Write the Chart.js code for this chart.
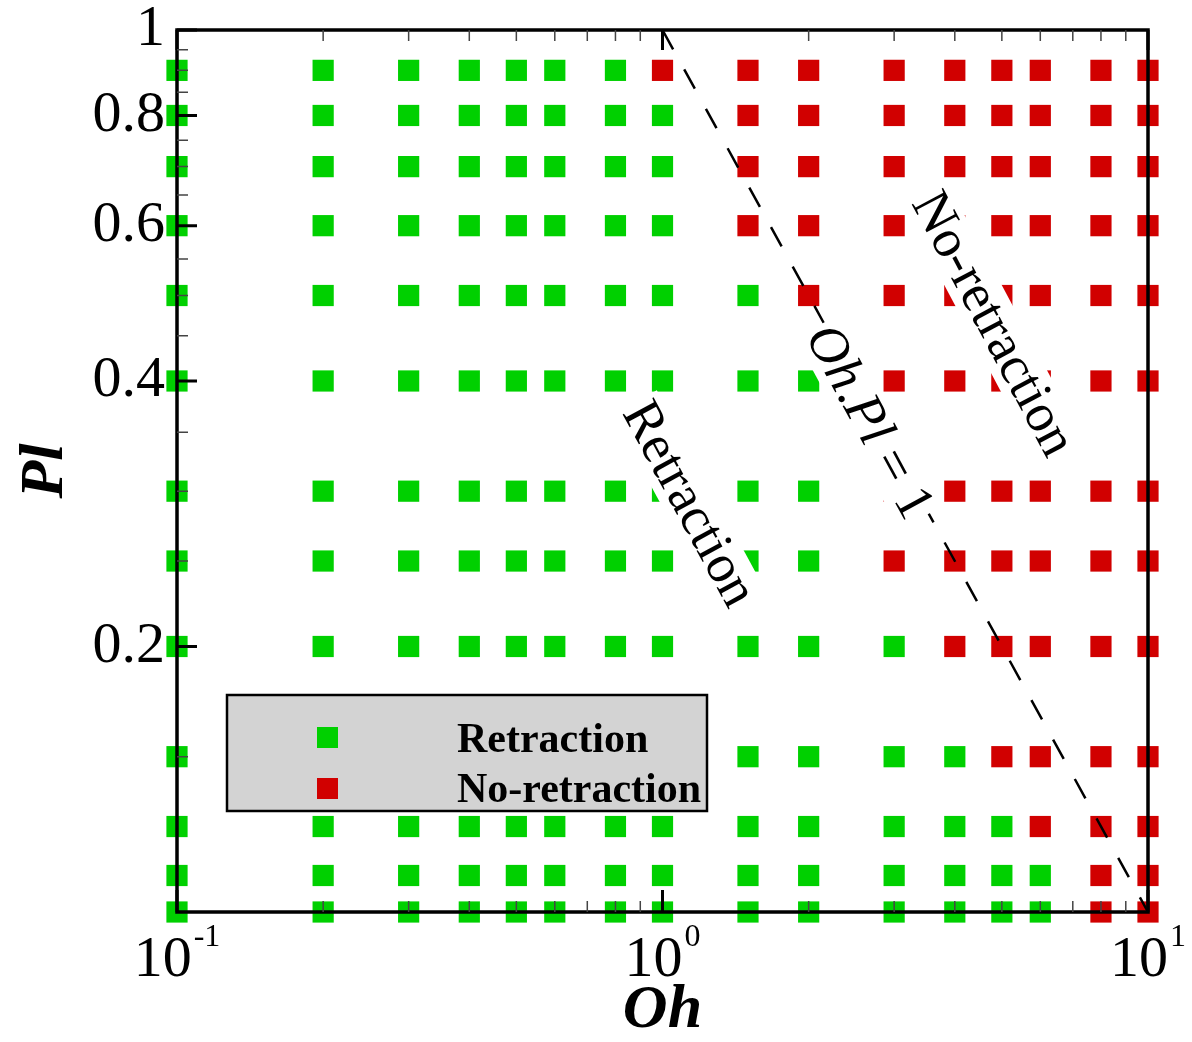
<!DOCTYPE html>
<html>
<head>
<meta charset="utf-8">
<script src="https://cdn.jsdelivr.net/npm/chart.js@4.4.1/dist/chart.umd.min.js"></script>
<style>
  html, body { margin: 0; padding: 0; background: #fff; }
  #wrap { width: 1192px; height: 1042px; position: relative; }
</style>
</head>
<body>
<div id="wrap"><canvas id="chart"></canvas></div>
<script>
// Oh columns and Pl rows of the run grid
const ohValues = [0.1, 0.2, 0.3, 0.4, 0.5, 0.6, 0.8, 1, 1.5, 2, 3, 4, 5, 6, 8, 10];
const plValues = [0.9, 0.8, 0.7, 0.6, 0.5, 0.4, 0.3, 0.25, 0.2, 0.15, 0.125, 0.11, 0.1];
// smallest Oh in each Pl row that showed no retraction
const firstNoRetractionOh = [1, 1.5, 1.5, 1.5, 2, 3, 3, 3, 4, 5, 6, 8, 8];

// Oh.Pl = 1 boundary
const boundaryOh = [1, 10];
const boundaryPl = [1, 0.1];

// axis ticks
const yMajorTicks = [0.2, 0.4, 0.6, 0.8, 1];
const yMinorTicks = [0.15, 0.25, 0.3, 0.35, 0.45, 0.5, 0.55, 0.65, 0.7, 0.75, 0.85, 0.9, 0.95];
const xMajorTicks = [0.1, 1, 10];
const xTickExponents = ['-1', '0', '1'];
const xMinorTicks = [0.2, 0.3, 0.4, 0.5, 0.6, 0.7, 0.8, 0.9, 2, 3, 4, 5, 6, 7, 8, 9];

const GREEN = '#00d000';
const RED = '#d10000';
const serif = "'Liberation Serif', 'Times New Roman', serif";

const retraction = [];
const noRetraction = [];
plValues.forEach((pl, i) => {
    ohValues.forEach(oh => {
        if (oh < firstNoRetractionOh[i]) retraction.push({ x: oh, y: pl });
        else noRetraction.push({ x: oh, y: pl });
    });
});

// rotated label with a white box behind it
function drawLabel(ctx, cx, cy, angle, parts, size) {
    ctx.save();
    ctx.translate(cx, cy);
    ctx.rotate(angle * Math.PI / 180);
    let total = 0;
    parts.forEach(p => {
        ctx.font = `${p.italic ? 'italic ' : ''}${size}px ${serif}`;
        p.w = ctx.measureText(p.text).width;
        total += p.w;
    });
    ctx.fillStyle = '#fff';
    ctx.fillRect(-total / 2 - 3, -size * 0.44, total + 6, size * 0.94);
    ctx.fillStyle = '#000';
    ctx.textBaseline = 'alphabetic';
    let xx = -total / 2;
    parts.forEach(p => {
        ctx.font = `${p.italic ? 'italic ' : ''}${size}px ${serif}`;
        ctx.fillText(p.text, xx, size * 0.33);
        xx += p.w;
    });
    ctx.restore();
}

const decorations = {
    id: 'decorations',
    afterDatasetsDraw(chart) {
        const { ctx, chartArea: a, scales: { x, y } } = chart;
        ctx.save();

        // region labels
        drawLabel(ctx, 691, 503, 61.5, [{ text: 'Retraction' }], 54);
        drawLabel(ctx, 995, 323, 62, [{ text: 'No-retraction' }], 54);
        drawLabel(ctx, 871, 421, 61.5, [
            { text: 'Oh', italic: true }, { text: '.' }, { text: 'Pl', italic: true }, { text: ' = 1' }
        ], 54);

        // legend box
        ctx.fillStyle = '#d3d3d3';
        ctx.fillRect(227, 695, 480, 116);
        ctx.strokeStyle = '#000';
        ctx.lineWidth = 2.5;
        ctx.strokeRect(227, 695, 480, 116);
        ctx.fillStyle = GREEN;
        ctx.fillRect(317, 727, 21, 21);
        ctx.fillStyle = RED;
        ctx.fillRect(317, 778, 21, 21);
        ctx.fillStyle = '#000';
        ctx.font = `bold 42px ${serif}`;
        ctx.textBaseline = 'alphabetic';
        ctx.textAlign = 'left';
        ctx.fillText('Retraction', 457, 752);
        ctx.fillText('No-retraction', 457, 802);

        // frame
        ctx.strokeStyle = '#000';
        ctx.lineWidth = 3.5;
        ctx.strokeRect(a.left, a.top, a.right - a.left, a.bottom - a.top);

        // inward ticks
        ctx.lineWidth = 3;
        ctx.beginPath();
        yMajorTicks.forEach(v => {
            const py = y.getPixelForValue(v);
            ctx.moveTo(a.left, py); ctx.lineTo(a.left + 20, py);
        });
        xMajorTicks.forEach(v => {
            const px = x.getPixelForValue(v);
            ctx.moveTo(px, a.bottom); ctx.lineTo(px, a.bottom - 22);
            ctx.moveTo(px, a.top); ctx.lineTo(px, a.top + 20);
        });
        ctx.stroke();

        ctx.lineWidth = 1.5;
        ctx.strokeStyle = '#444';
        ctx.beginPath();
        yMinorTicks.forEach(v => {
            const py = y.getPixelForValue(v);
            ctx.moveTo(a.left, py); ctx.lineTo(a.left + 11, py);
        });
        xMinorTicks.forEach(v => {
            const px = x.getPixelForValue(v);
            ctx.moveTo(px, a.bottom); ctx.lineTo(px, a.bottom - 11);
            ctx.moveTo(px, a.top); ctx.lineTo(px, a.top + 11);
        });
        ctx.stroke();

        // x tick labels as powers of ten
        ctx.fillStyle = '#000';
        xMajorTicks.forEach((v, i) => {
            const px = x.getPixelForValue(v);
            ctx.font = `58px ${serif}`;
            const wBase = ctx.measureText('10').width;
            ctx.font = `32px ${serif}`;
            const wExp = ctx.measureText(xTickExponents[i]).width;
            const left = px - (wBase + wExp + 2) / 2;
            ctx.font = `58px ${serif}`;
            ctx.fillText('10', left, 976);
            ctx.font = `32px ${serif}`;
            ctx.fillText(xTickExponents[i], left + wBase + 2, 946);
        });

        ctx.restore();
    }
};

const ctx = document.getElementById('chart').getContext('2d');
new Chart(ctx, {
    type: 'scatter',
    data: {
        datasets: [
            {
                type: 'line',
                label: 'Oh.Pl = 1',
                data: boundaryOh.map((oh, i) => ({ x: oh, y: boundaryPl[i] })),
                borderColor: '#000',
                borderWidth: 2.5,
                borderDash: [22, 23],
                pointRadius: 0,
                fill: false,
                clip: false,
                order: 0
            },
            {
                label: 'No-retraction',
                data: noRetraction,
                pointStyle: 'rect',
                pointRadius: 15,
                pointBorderWidth: 0,
                backgroundColor: RED,
                borderColor: RED,
                clip: false,
                order: 1
            },
            {
                label: 'Retraction',
                data: retraction,
                pointStyle: 'rect',
                pointRadius: 15,
                pointBorderWidth: 0,
                backgroundColor: GREEN,
                borderColor: GREEN,
                clip: false,
                order: 2
            }
        ]
    },
    options: {
        responsive: true,
        maintainAspectRatio: false,
        animation: false,
        layout: { padding: { top: 30, right: 44, left: 0, bottom: 0 } },
        plugins: {
            legend: { display: false },
            tooltip: { enabled: false }
        },
        scales: {
            x: {
                type: 'logarithmic',
                min: 0.1,
                max: 10,
                grid: { display: false, drawTicks: false },
                border: { display: false },
                ticks: { display: false },
                title: {
                    display: true,
                    text: 'Oh',
                    color: '#000',
                    padding: 0,
                    font: { family: serif, size: 62, style: 'italic', weight: 'bold', lineHeight: 1 }
                },
                afterFit(s) {
                    s.height = 130;
                    s.paddingLeft = 0;
                    s.paddingRight = 0;
                }
            },
            y: {
                type: 'logarithmic',
                min: 0.1,
                max: 1,
                grid: { display: false, drawTicks: false },
                border: { display: false },
                afterBuildTicks(s) { s.ticks = yMajorTicks.map(v => ({ value: v })); },
                ticks: {
                    autoSkip: false,
                    color: '#000',
                    padding: 12,
                    font: { family: serif, size: 58 },
                    callback: v => (v === 1 ? '1' : v.toFixed(1))
                },
                title: {
                    display: true,
                    text: 'Pl',
                    color: '#000',
                    padding: { top: 15, bottom: 0 },
                    font: { family: serif, size: 62, style: 'italic', weight: 'bold', lineHeight: 1 }
                },
                afterFit(s) {
                    s.width = 177;
                    s.paddingTop = 0;
                    s.paddingBottom = 0;
                }
            }
        }
    },
    plugins: [decorations]
});
</script>
</body>
</html>
